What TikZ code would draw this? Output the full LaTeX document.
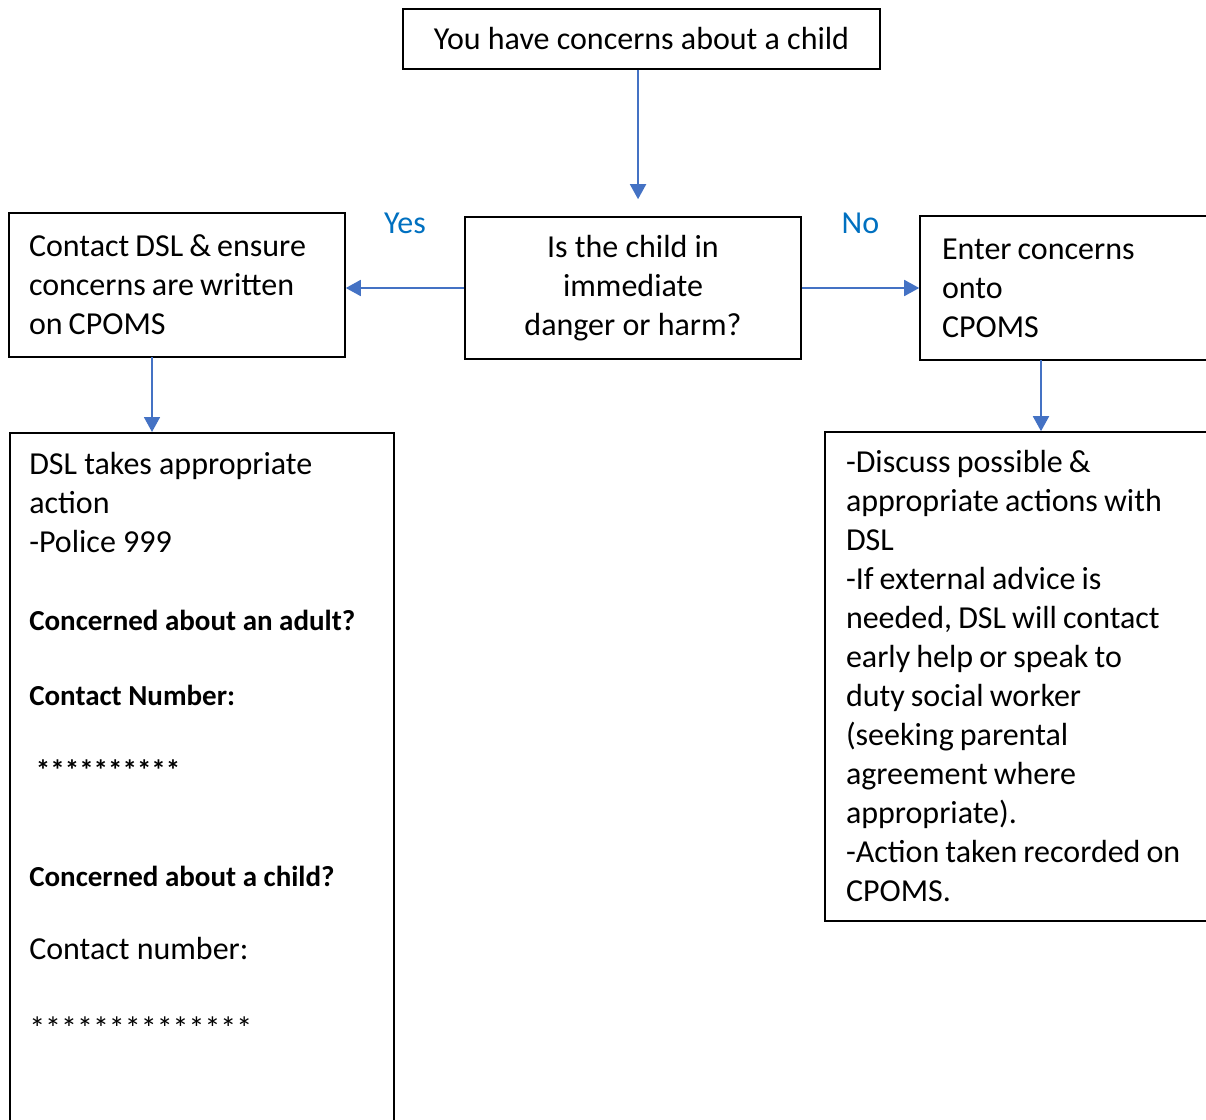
\documentclass[tikz,border=0pt]{standalone}
\usepackage{fontspec}
\setmainfont{Carlito}
\usepackage{xcolor}
\definecolor{ArrowBlue}{RGB}{68,114,196}
\definecolor{LabelBlue}{RGB}{0,112,192}
\usepackage{tikz}
\usetikzlibrary{arrows.meta, positioning}
\newcommand{\smallbold}[1]{{\fontsize{21.75}{26}\selectfont\bfseries #1}}
\newcommand{\tightspaces}{\spaceskip=0.19em plus 0.1em\relax}
\tikzset{
  % Plain flow box
  fbox/.style={
    rectangle, draw=black, line width=1.2pt,
    fill=white, inner ysep=0pt,
    font=\fontsize{24}{29.25}\selectfont
  },
  % Box with left aligned text (tighter word spaces)
  fbox left/.style={fbox, align=left, execute at begin node=\tightspaces},
  % Box with centred text
  fbox mid/.style={fbox, align=center, inner xsep=0pt},
  % Loose text
  txt/.style={inner sep=0pt, align=left, font=\fontsize{24}{29.25}\selectfont},
  % Arrows
  arr/.style={-{Triangle[length=11.25pt,width=12pt]}, line width=1.4pt, ArrowBlue},
  % Edge label
  elabel/.style={font=\fontsize{24}{29.25}\selectfont, text=LabelBlue, inner sep=0pt},
}

\begin{document}
\begin{tikzpicture}[x=0.75pt, y=-0.75pt]
  \useasboundingbox (0,0) rectangle (1206,1120);
  \clip (0,0) rectangle (1206,1120);

  % top row
  \node[fbox mid, minimum width=357.75pt, minimum height=45pt] (start) at (641.5,39)
    {You have concerns about a child};
  \node[fbox mid, minimum width=252pt, minimum height=106.5pt] (danger) at (633,288)
    {Is the child in\\immediate\\danger or harm?};
  \node[fbox left, text width=222pt, inner xsep=15pt, minimum height=108pt] (dsl) at (177,285)
    {Contact DSL \& ensure\\concerns are written\\on CPOMS};
  \node[fbox left, text width=207pt, inner xsep=16.5pt, minimum height=108pt] (enter) at (1080,288)
    {Enter concerns\\onto\\CPOMS};

  % bottom row
  \node[fbox, minimum width=288pt, minimum height=570pt, anchor=north west] (act) at (9,432) {};
  \node[txt, anchor=north west] (acttxt) at (29,452)
    {DSL takes appropriate\\action\\-Police 999\\[29.25pt]
     \smallbold{Concerned about an adult?}\\[27pt]
     \smallbold{Contact Number:}\\[27pt]
     \hspace*{5pt}\smallbold{**********}\\[50.25pt]
     \smallbold{Concerned about a child?}\\[25.5pt]
     Contact number:\\[30.75pt]
     **************};
  \node[fbox left, text width=279.75pt, inner xsep=15.75pt, minimum height=366.75pt] (discuss) at (1032.5,676.5)
    {-Discuss possible \&\\appropriate actions with\\DSL\\-If external advice is\\needed, DSL will contact\\early help or speak to\\duty social worker\\(seeking parental\\agreement where\\appropriate).\\-Action taken recorded on\\CPOMS.};

  % connectors
  \coordinate (dslout) at (152,357);
  \coordinate (enterout) at (1041,360);
  \draw[arr, shorten >=12.75pt] ([xshift=-2.6pt]start.south) -- ([xshift=-2.6pt]start.south |- danger.north);
  \draw[arr] (danger.west) -- node[elabel, midway, yshift=48.75pt] (yes) {Yes} (danger.west -| dsl.east);
  \draw[arr] (danger.east) -- node[elabel, midway, yshift=48.75pt] (no) {No} (danger.east -| enter.west);
  \draw[arr] (dslout) -- (dslout |- act.north);
  \draw[arr] (enterout) -- (enterout |- discuss.north);
\end{tikzpicture}
\end{document}
